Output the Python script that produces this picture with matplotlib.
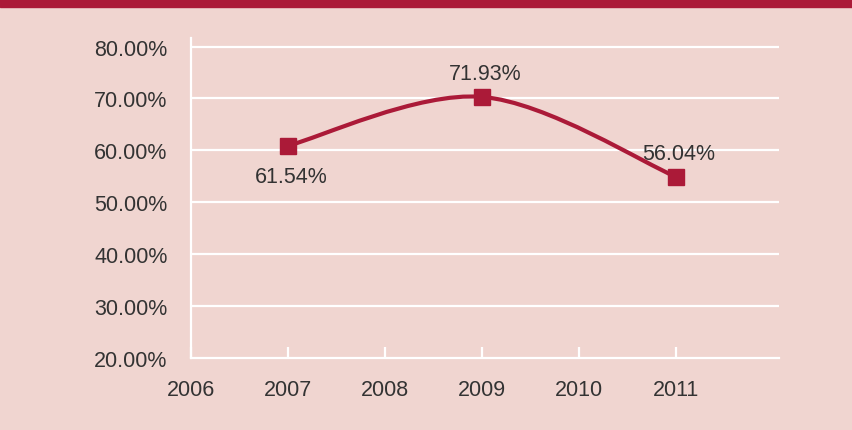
import numpy as np
import matplotlib.pyplot as plt
from matplotlib.path import Path
from matplotlib.patches import PathPatch, Rectangle

# values as plotted and the printed labels
years = [2007, 2009, 2011]
rates = [60.9, 70.3, 54.9]
point_labels = ['61.54%', '71.93%', '56.04%']
label_side = ['below', 'above', 'above']

x_ticks = [2006, 2007, 2008, 2009, 2010, 2011]
y_ticks = [20, 30, 40, 50, 60, 70, 80]

BG = '#f0d5d0'
RED = '#ab1a38'
TEXT = '#333333'
FS = 15.5

plt.rcParams['font.family'] = ['Liberation Sans Narrow', 'Liberation Sans', 'DejaVu Sans']


def smooth_path(xs, ys):
    # Catmull-Rom style bezier through the points (like a spreadsheet "smoothed line")
    pts = np.column_stack([xs, ys]).astype(float)
    ext = np.vstack([pts[0], pts, pts[-1]])
    verts = [pts[0]]
    codes = [Path.MOVETO]
    for i in range(1, len(ext) - 2):
        p0, p1, p2, p3 = ext[i - 1], ext[i], ext[i + 1], ext[i + 2]
        c1 = p1 + (p2 - p0) / 6.0
        c2 = p2 - (p3 - p1) / 6.0
        verts += [c1, c2, p2]
        codes += [Path.CURVE4] * 3
    return Path(verts, codes)


fig = plt.figure(figsize=(8.52, 4.31), dpi=100, facecolor=BG)
fig.patches.append(Rectangle((0, 1 - 8 / 431), 1, 8 / 431, transform=fig.transFigure,
                             color=RED, zorder=0))

ax = fig.add_axes([0.2242, 0.167, 0.69, 0.742])
ax.set_facecolor(BG)

ax.set_xlim(2006, 2012.06)
ax.set_ylim(20, 81.6)

for y in y_ticks[1:]:
    ax.axhline(y, color='white', lw=1.6, zorder=1)

for s in ['top', 'right']:
    ax.spines[s].set_visible(False)
for s in ['left', 'bottom']:
    ax.spines[s].set_color('white')
    ax.spines[s].set_linewidth(1.6)

ax.set_xticks(x_ticks)
ax.set_xticklabels([str(x) for x in x_ticks])
ax.set_yticks(y_ticks)
ax.set_yticklabels([f'{y:.2f}%' for y in y_ticks])
ax.tick_params(axis='x', direction='in', length=8, width=1.6, color='white',
               pad=15, labelsize=FS, labelcolor=TEXT)
ax.tick_params(axis='y', length=0, pad=17, labelsize=FS, labelcolor=TEXT)

ax.add_patch(PathPatch(smooth_path(years, rates), facecolor='none', edgecolor=RED,
                       lw=3, capstyle='round', zorder=3))
ax.plot(years, rates, linestyle='none', marker='s', markersize=11.5,
        color=RED, zorder=4)

for x, y, lab, side in zip(years, rates, point_labels, label_side):
    if side == 'below':
        ax.annotate(lab, (x, y), xytext=(2, -22), textcoords='offset points',
                    ha='center', va='center', fontsize=FS, color=TEXT)
    else:
        ax.annotate(lab, (x, y), xytext=(2, 17), textcoords='offset points',
                    ha='center', va='center', fontsize=FS, color=TEXT)

fig.savefig('out.png', dpi=100, facecolor=BG)
